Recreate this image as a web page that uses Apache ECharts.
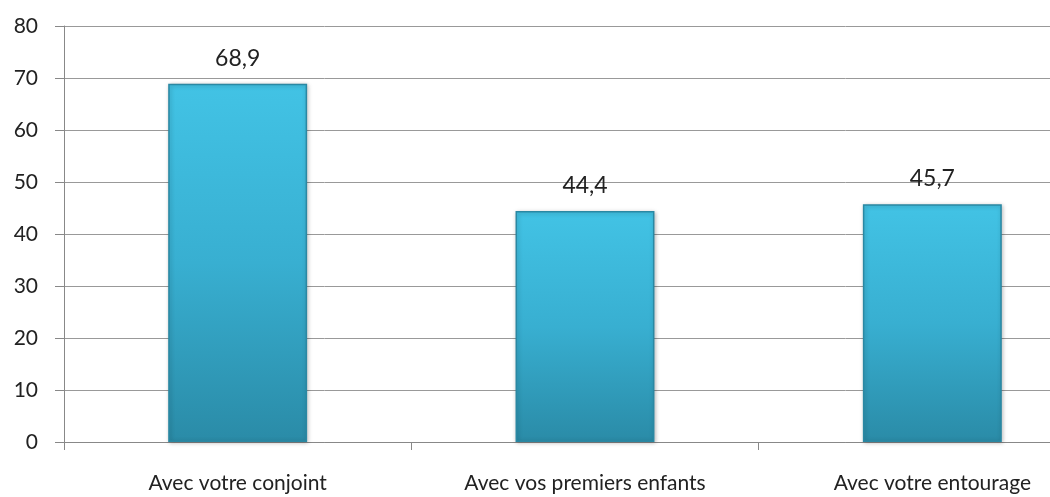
<!DOCTYPE html>
<html><head><meta charset="utf-8">
<script src="https://cdn.jsdelivr.net/npm/echarts@6/dist/echarts.min.js"></script>
<style>html,body{margin:0;padding:0;background:#fff;overflow:hidden}#c{width:1106px;height:497px}</style>
</head><body><div id="c"></div>
<script>
const categories = ["Avec votre conjoint", "Avec vos premiers enfants", "Avec votre entourage"];
const values = [68.9, 44.4, 45.7];
const yTicks = [0, 10, 20, 30, 40, 50, 60, 70, 80];

const chart = echarts.init(document.getElementById('c'));
chart.setOption({
  animation: false,
  grid: {left: 64, right: 0, top: 26, bottom: 55, containLabel: false},
  xAxis: {
    type: 'category', data: categories, boundaryGap: true,
    axisLine: {lineStyle: {color: '#888', width: 1}},
    axisTick: {show: true, length: 8, lineStyle: {color: '#888'}},
    axisLabel: {color: '#222', fontFamily: 'Lato, "Open Sans", sans-serif', fontSize: 21, margin: 31}
  },
  yAxis: {
    type: 'value', min: 0, max: 80, interval: 10,
    axisLine: {show: true, lineStyle: {color: '#888'}},
    axisTick: {show: true, length: 9, lineStyle: {color: '#888'}},
    splitLine: {lineStyle: {color: '#999', width: 1}},
    axisLabel: {color: '#222', fontFamily: 'Lato, "Open Sans", sans-serif', fontSize: 21, margin: 26}
  },
  series: [{
    type: 'bar', data: values, barWidth: '40%',
    itemStyle: {
      color: new echarts.graphic.LinearGradient(0, 0, 0, 1, [
        {offset: 0, color: '#42c3e5'},
        {offset: 0.5, color: '#38afd1'},
        {offset: 1, color: '#2a8ba7'}
      ]),
      borderColor: '#2a88a3', borderWidth: 1.5,
      shadowColor: 'rgba(0,0,0,0.25)', shadowBlur: 4, shadowOffsetX: 1, shadowOffsetY: 1
    },
    label: {
      show: true, position: 'top', distance: 14, color: '#222',
      fontFamily: 'Lato, "Open Sans", sans-serif', fontSize: 23,
      formatter: p => p.value.toFixed(1).replace('.', ',')
    }
  }]
});
</script></body></html>
